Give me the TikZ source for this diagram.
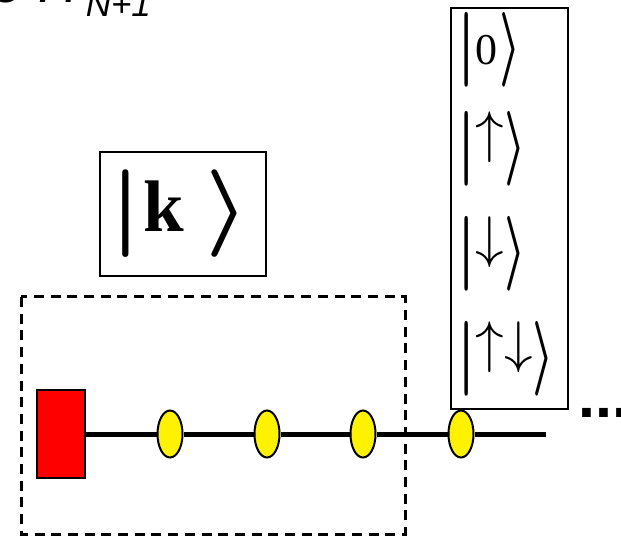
\documentclass[tikz,border=0pt]{standalone}
\usepackage{fix-cm}
\usepackage{graphicx}
\usepackage{fontspec}
\setmainfont{Liberation Serif}
\newfontfamily\arial{Liberation Sans}
\usetikzlibrary{shapes.geometric}
\newcommand\ketbar[2]{\scalebox{#1}[#2]{\boldmath$|$}}
\newcommand\ketang[2]{\scalebox{#1}[#2]{\boldmath$\rangle$}}
\newcommand\bigarrow[1]{\raisebox{16pt}{\scalebox{1.3}{$#1$}}}
\begin{document}
\begin{tikzpicture}[x=1pt,y=-1pt,
  site/.style={ellipse, draw=black, line width=2pt, fill=yellow, minimum width=25pt, minimum height=47pt, inner sep=0pt},
  chainline/.style={line width=5pt},
  framebox/.style={draw=black, line width=1.5pt, inner sep=0pt},
  ket/.style={font=\fontsize{44}{50}\selectfont, inner sep=0pt, anchor=west},
  grouping/.style={draw=black, line width=3pt, dash pattern=on 10pt off 6.7pt}
]
\useasboundingbox (0,0) rectangle (621,537);
% title (cut off at the top)
\node[font=\arial\itshape\fontsize{55}{60}\selectfont, anchor=base west, inner sep=0pt] (title) at (-8,3)
  {e H\hspace{8pt}\raisebox{-14pt}{\fontsize{35}{35}\selectfont N+1}};
% grouping frame
\draw[grouping] (21,297) rectangle (405,534);
% impurity and chain sites
\node[draw=black, line width=1.5pt, fill=red, minimum width=48pt, minimum height=88pt, inner sep=0pt] (imp) at (61,434) {};
\node[site] (s1) at (170,434) {};
\node[site] (s2) at (267,434) {};
\node[site] (s3) at (363,434) {};
\node[site] (s4) at (461,434) {};
\coordinate (end) at (546,434);
\draw[chainline] (imp) -- (s1) (s1) -- (s2) (s2) -- (s3) (s3) -- (s4) (s4) -- (end);
% dots
\node[font=\arial\bfseries\fontsize{61}{61}\selectfont, anchor=base west, inner sep=0pt] (dots) at (578,417) {...};
% |k> box
\node[framebox, minimum width=166pt, minimum height=124pt] (kbox) at (183,214) {};
\node[font=\fontsize{73}{80}\selectfont, inner sep=0pt, anchor=west] (kket) at (109,214)
  {\ketbar{1.4}{1.2}\hspace{2pt}\raisebox{4pt}{\bfseries k}\hspace{21pt}\ketang{1.35}{1.2}};
% states of new site
\node[framebox, minimum width=117pt, minimum height=401pt] (states) at (509.5,208.5) {};
\node[ket] (k0) at (457,49.5) {\ketbar{1.3}{1.7}\raisebox{4pt}{0}\hspace{2pt}\ketang{1.1}{1.7}};
\node[ket] (k1) at (457,149) {\ketbar{1.3}{1.7}\bigarrow{\uparrow}\ketang{1.1}{1.7}};
\node[ket] (k2) at (457,254) {\ketbar{1.3}{1.7}\bigarrow{\downarrow}\ketang{1.1}{1.7}};
\node[ket] (k3) at (457,359) {\ketbar{1.3}{1.7}\bigarrow{\uparrow}\bigarrow{\downarrow}\ketang{1.1}{1.7}};
\end{tikzpicture}
\end{document}
